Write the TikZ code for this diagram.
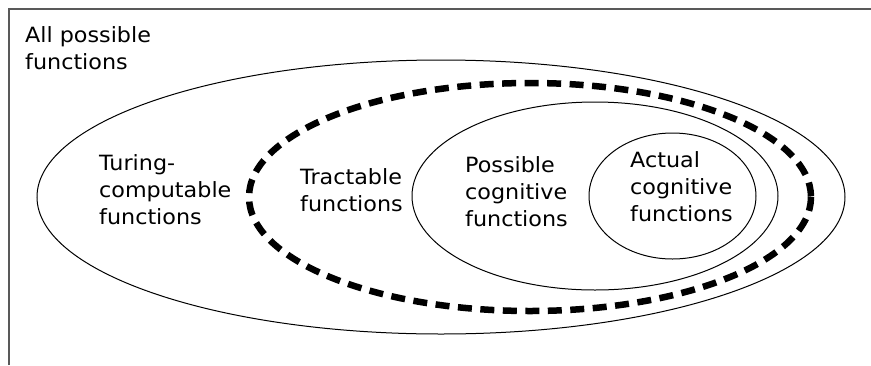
\documentclass[tikz,border=0pt]{standalone}
\usepackage{fontspec}
\setmainfont{DejaVu Sans}[FakeStretch=1.06]
\usetikzlibrary{positioning}
\tikzset{
    set label/.style = {
        anchor = north west,
        align = left,
        inner sep = 0pt,
        font = \fontsize{21}{27}\selectfont,
        },
    set border/.style = {
        line width = 1pt,
        },
    tractable border/.style = {
        line width = 6.5pt,
        dash pattern = on 14pt off 8.5pt,
        },
    frame/.style = {
        draw = black!65,
        line width = 1.3pt,
        }
}
\begin{document}
\begin{tikzpicture}[x=1pt, y=-1pt]
            \useasboundingbox (0,0) rectangle (871,365);
            \draw[frame] (9,365) -- (9,9) -- (871,9);

            \draw[set border] (441,197) ellipse [x radius=404, y radius=137];
            \draw[tractable border] (530,197) ellipse [x radius=281, y radius=114];
            \draw[set border] (595,196) ellipse [x radius=183, y radius=94];
            \draw[set border] (672.5,196) ellipse [x radius=83.5, y radius=63];

            \node[set label] (all) at (25,26) {All possible\\functions};
            \node[set label] (turing) at (99,154) {Turing-\\computable\\functions};
            \node[set label] (tractable) at (300,168) {Tractable\\functions};
            \node[set label] (possible) at (465,156) {Possible\\cognitive\\functions};
            \node[set label] (actual) at (630,151) {Actual\\cognitive\\functions};
        \end{tikzpicture}
\end{document}
